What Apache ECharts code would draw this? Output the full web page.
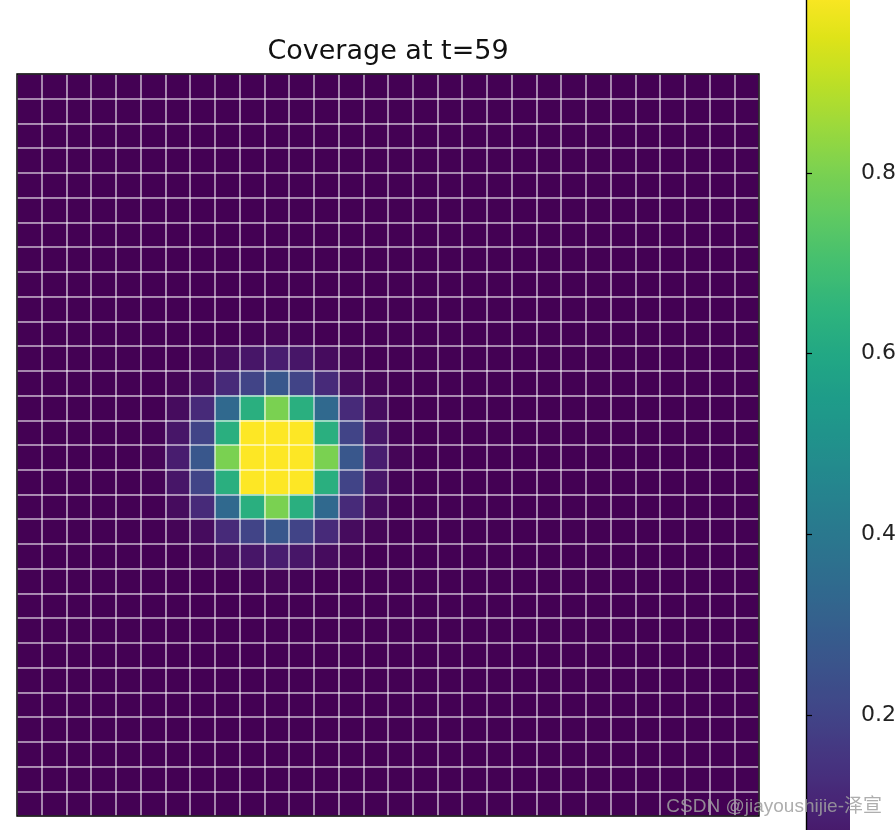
<!DOCTYPE html>
<html>
<head>
<meta charset="utf-8">
<script src="https://cdn.jsdelivr.net/npm/echarts@6/dist/echarts.min.js"></script>
<style>
html,body{margin:0;padding:0;background:#fff;}
#chart{width:896px;height:830px;}
</style>
</head>
<body>
<div id="chart"></div>
<script>
// ---- data ----
const titleText = 'Coverage at t=59';
const gridSize = 30;                 // 30 x 30 cells
const patchRowStart = 10;            // top row of the non-zero patch
const patchColStart = 5;             // left column of the non-zero patch
// coverage values of the patch (rows 10..20, columns 5..15); every other cell is 0
const patch = [
  [0,     0,    0,    0,    0.005, 0.01, 0.005, 0,    0,    0,    0],
  [0,     0,    0.01, 0.03, 0.06,  0.08, 0.06,  0.03, 0.01, 0,    0],
  [0,     0.01, 0.03, 0.12, 0.20,  0.27, 0.20,  0.12, 0.03, 0.01, 0],
  [0,     0.03, 0.12, 0.34, 0.63,  0.80, 0.63,  0.34, 0.12, 0.03, 0],
  [0.005, 0.06, 0.20, 0.63, 1.00,  1.00, 1.00,  0.63, 0.20, 0.06, 0.005],
  [0.01,  0.08, 0.27, 0.80, 1.00,  1.00, 1.00,  0.80, 0.27, 0.08, 0.01],
  [0.005, 0.06, 0.20, 0.63, 1.00,  1.00, 1.00,  0.63, 0.20, 0.06, 0.005],
  [0,     0.03, 0.12, 0.34, 0.63,  0.80, 0.63,  0.34, 0.12, 0.03, 0],
  [0,     0.01, 0.03, 0.12, 0.20,  0.27, 0.20,  0.12, 0.03, 0.01, 0],
  [0,     0,    0.01, 0.03, 0.06,  0.08, 0.06,  0.03, 0.01, 0,    0],
  [0,     0,    0,    0,    0.005, 0.01, 0.005, 0,    0,    0,    0]
];
const colorbarMin = 0, colorbarMax = 1, colorbarStep = 0.2;
const viridis = ['#440154','#471365','#482475','#463480','#414487','#3b528b','#355f8d',
  '#2f6c8e','#2a788e','#25848e','#21918c','#1e9c89','#22a884','#2fb47c','#44bf70',
  '#5ec962','#7ad151','#9bd93c','#bddf26','#dfe318','#fde725'];
const watermark = 'CSDN @jiayoushijie-泽宣';

// ---- build ----
const cats = [];
for (let i = 0; i < gridSize; i++) cats.push(String(i));
const cells = [];
for (let r = 0; r < gridSize; r++) {
  for (let c = 0; c < gridSize; c++) {
    const pr = r - patchRowStart, pc = c - patchColStart;
    let v = 0;
    if (pr >= 0 && pr < patch.length && pc >= 0 && pc < patch[0].length) v = patch[pr][pc];
    cells.push([c, r, v]);
  }
}

const gridLine = {show: true, interval: 0, lineStyle: {color: 'rgba(255,255,255,0.7)', width: 1.5}};
const chart = echarts.init(document.getElementById('chart'), null, {renderer: 'canvas'});
chart.setOption({
  animation: false,
  backgroundColor: '#ffffff',
  title: {
    text: titleText, left: 383, textAlign: 'center', top: 33,
    textStyle: {fontFamily: 'DejaVu Sans', fontSize: 27, fontWeight: 'normal', color: '#111'}
  },
  grid: [
    {left: 17, top: 74, width: 742, height: 742, show: true, z: 10, outerBoundsMode: 'none',
     containLabel: false, borderColor: '#000', borderWidth: 1.4, backgroundColor: 'transparent'},
    {left: 806, top: -8, width: 44, height: 904, show: false, outerBoundsMode: 'none',
     containLabel: false}
  ],
  xAxis: [
    {type: 'category', data: cats, gridIndex: 0, z: 5,
     axisLine: {show: false}, axisTick: {show: false}, axisLabel: {show: false},
     splitLine: gridLine},
    {type: 'value', gridIndex: 1, show: false, min: 0, max: 1}
  ],
  yAxis: [
    {type: 'category', data: cats, gridIndex: 0, inverse: true, z: 5,
     axisLine: {show: false}, axisTick: {show: false}, axisLabel: {show: false},
     splitLine: gridLine},
    {type: 'value', gridIndex: 1, min: colorbarMin, max: colorbarMax, interval: colorbarStep,
     position: 'right', z: 10,
     axisLine: {show: true, lineStyle: {color: '#000', width: 1.2}},
     axisTick: {show: true, inside: false, length: 6, lineStyle: {color: '#000', width: 1.2}},
     axisLabel: {show: true, margin: 11, fontFamily: 'DejaVu Sans', fontSize: 22, color: '#222',
       showMaxLabel: true, showMinLabel: true, hideOverlap: false,
       formatter: v => v.toFixed(1)},
     splitLine: {show: false}},
    {type: 'value', gridIndex: 1, min: colorbarMin, max: colorbarMax,
     position: 'left', z: 10,
     axisLine: {show: true, onZero: false, lineStyle: {color: '#000', width: 1.2}},
     axisTick: {show: false}, axisLabel: {show: false}, splitLine: {show: false}}
  ],
  visualMap: {
    type: 'continuous', min: colorbarMin, max: colorbarMax, seriesIndex: 0,
    calculable: false, orient: 'vertical', left: 806, top: -8,
    itemWidth: 44, itemHeight: 904, padding: 0, text: null, showLabel: false,
    inRange: {color: viridis}
  },
  series: [{
    type: 'heatmap', xAxisIndex: 0, yAxisIndex: 0, data: cells,
    itemStyle: {borderWidth: 0}, emphasis: {disabled: true}
  }],
  graphic: [{
    type: 'text', right: 14, top: 797, z: 100,
    style: {text: watermark, fontFamily: 'Liberation Sans, Noto Sans CJK SC', fontSize: 19,
      fill: 'rgba(160,160,160,0.85)'}
  }]
});
</script>
</body>
</html>
